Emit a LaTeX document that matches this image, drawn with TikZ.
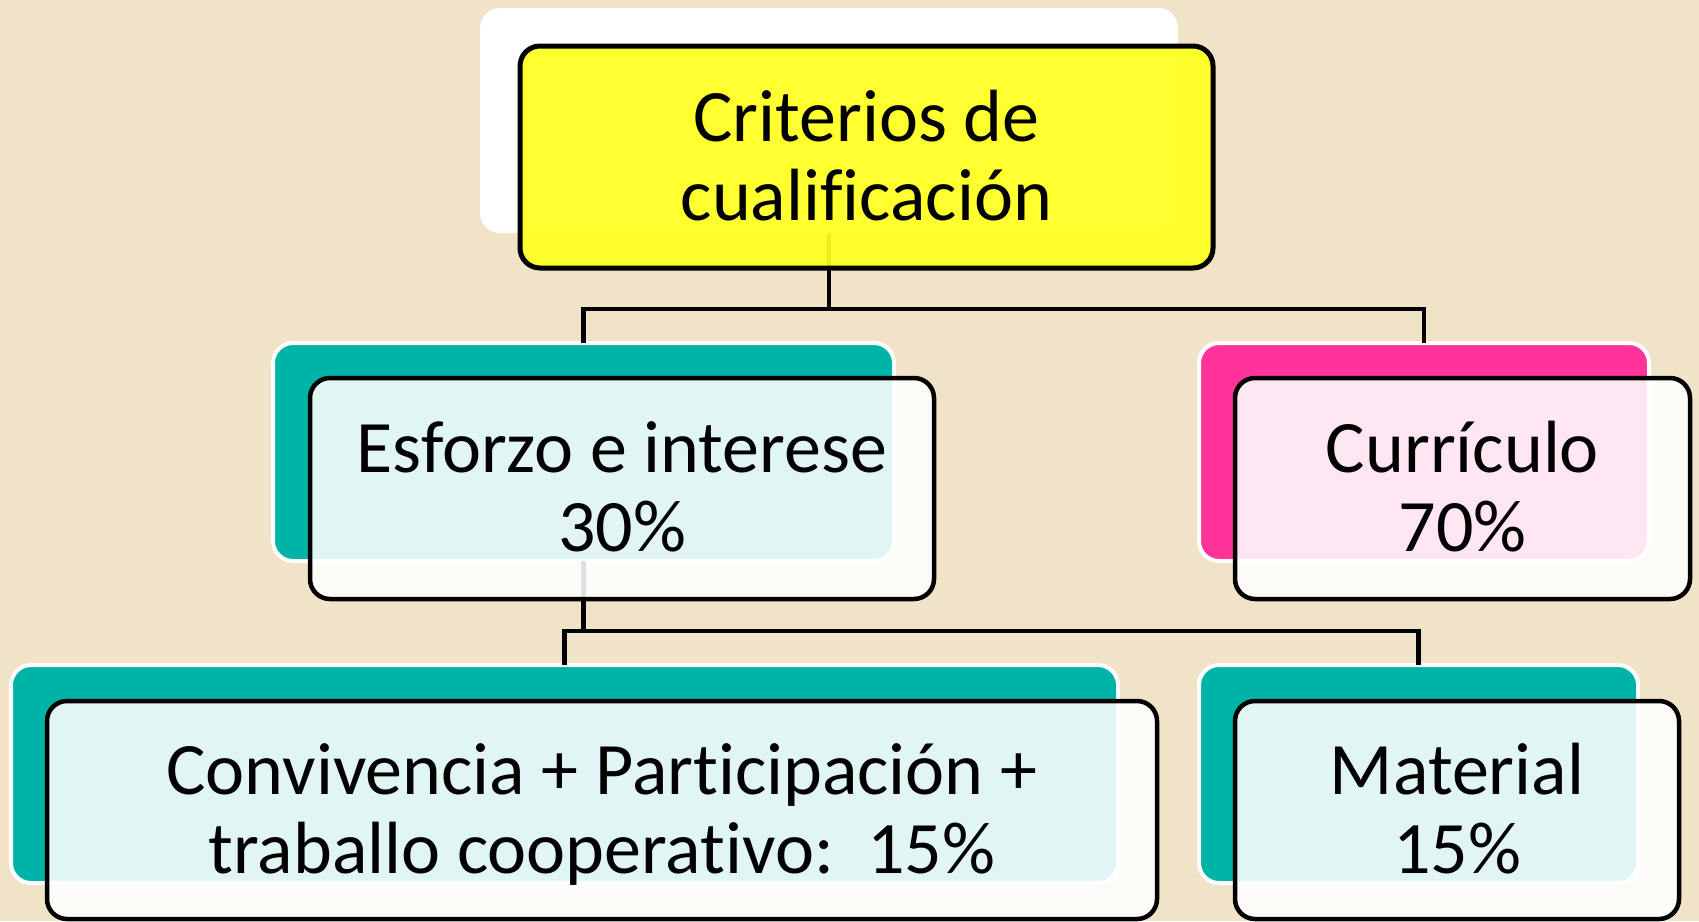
\documentclass[tikz,border=0pt]{standalone}
\usepackage{fontspec}
\setmainfont{Carlito}[Ligatures=NoCommon]
\definecolor{bg}{RGB}{240,227,200}
\definecolor{tealc}{RGB}{0,179,167}
\definecolor{pinkc}{RGB}{255,51,153}
\definecolor{yelc}{RGB}{255,255,32}
\begin{document}
\begin{tikzpicture}[x=1pt,y=-1pt,
  backbox/.style={draw=white, line width=4pt, rounded corners=20pt, anchor=north west, inner sep=0pt, outer sep=0pt},
  frontbox/.style={draw=black, line width=4.5pt, rounded corners=20pt, anchor=north west, inner sep=0pt, outer sep=0pt,
     fill=white, fill opacity=0.88, text opacity=1, align=center, font=\fontsize{74}{79}\selectfont, text height=126pt, text depth=0pt},
  conn/.style={draw=black, line width=4.5pt}]
\fill[bg] (0,0) rectangle (1699,921);
\useasboundingbox (0,0) rectangle (1699,921);
% back boxes
\node[backbox, fill=white, draw=none, minimum width=698pt, minimum height=225pt] (rootb) at (480,8) {};
\node[backbox, fill=tealc, minimum width=621pt, minimum height=218pt] (esb) at (273,343) {};
\node[backbox, fill=pinkc, minimum width=450pt, minimum height=218pt] (cub) at (1199,343) {};
\node[backbox, fill=tealc, minimum width=1107pt, minimum height=218pt] (cob) at (11,665) {};
\node[backbox, fill=tealc, minimum width=439pt, minimum height=218pt] (mab) at (1199,665) {};
% connectors
\draw[conn] (rootb.south) -- ++(0,76) -| (esb.north);
\draw[conn] (rootb.south) -- ++(0,76) -| (cub.north);
\draw[conn] (esb.south) -- ++(0,70) -| (cob.north);
\draw[conn] (esb.south) -- ++(0,70) -| (mab.north);
% front boxes
\node[frontbox, fill=yelc, fill opacity=0.93, line width=5pt, minimum width=693pt, minimum height=222pt] (root) at (520,46) {Criterios de\\cualificación};
\node[frontbox, minimum width=624pt, minimum height=221pt] (es) at (310,378) {Esforzo e interese\\30\%};
\node[frontbox, minimum width=455pt, minimum height=221pt] (cu) at (1235,378) {Currículo\\70\%};
\node[frontbox, minimum width=1110pt, minimum height=218pt] (co) at (47,701) {Convivencia + Participación +\\traballo cooperativo:\ \ 15\%};
\node[frontbox, minimum width=444pt, minimum height=218pt] (ma) at (1235,701) {Material\\15\%};
\end{tikzpicture}
\end{document}
